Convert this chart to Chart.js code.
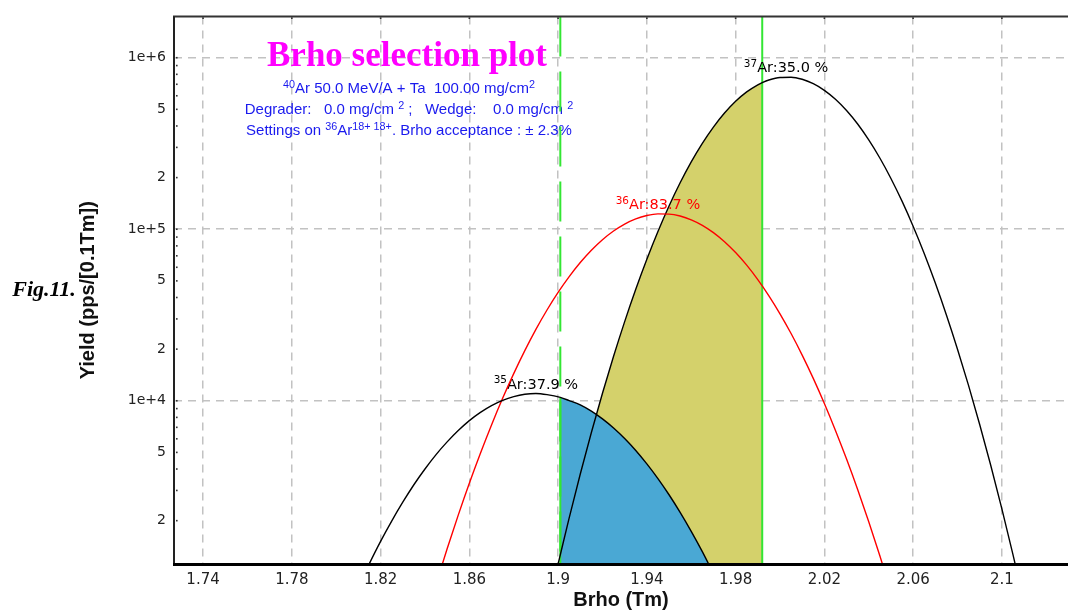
<!DOCTYPE html>
<html><head><meta charset="utf-8">
<script src="https://cdn.jsdelivr.net/npm/chart.js@4.4.1/dist/chart.umd.min.js"></script>
<style>html,body{margin:0;padding:0;background:#fff;overflow:hidden}canvas{display:block}</style>
</head><body>
<canvas id="c" width="1068" height="613" style="width:1068px;height:613px"></canvas>
<script>
// ---- data ----
const ar35X = [1.810,1.815,1.820,1.825,1.830,1.835,1.840,1.845,1.850,1.855,1.860,1.865,1.870,1.875,1.880,1.885,1.890,1.895,1.901,1.905,1.910,1.915,1.920,1.925,1.930,1.935,1.940,1.945,1.950,1.955,1.960,1.965,1.970];
const ar35Y = [824,1127,1514,1988,2560,3236,4000,4853,5754,6699,7656,8551,9370,10050,10570,10910,11020,10850,10450,10020,9465,8700,7839,6937,6020,5129,4285,3516,2830,2234,1731,1318,982];

const ar36X = [1.845,1.850,1.855,1.860,1.865,1.870,1.875,1.880,1.885,1.890,1.895,1.900,1.905,1.910,1.915,1.920,1.925,1.930,1.935,1.940,1.945,1.950,1.955,1.960,1.965,1.970,1.975,1.980,1.985,1.990,1.995,2.000,2.005,2.010,2.015,2.020,2.025,2.030,2.035,2.040,2.045,2.050];
const ar36Y = [851,1371,2153,3304,4943,7228,10330,14390,19590,26040,33790,42800,52930,63930,75420,86860,97610,107150,114850,120180,122800,122480,119300,113440,105370,95540,84560,73090,61710,50830,40900,32120,24640,18450,13490,9632,6713,4568,3037,1970,1248,772];

const ar37X = [1.895,1.900,1.901,1.905,1.910,1.915,1.920,1.925,1.930,1.935,1.940,1.945,1.950,1.955,1.960,1.965,1.970,1.975,1.980,1.985,1.990,1.992,1.995,2.000,2.005,2.010,2.015,2.020,2.025,2.030,2.035,2.040,2.045,2.050,2.055,2.060,2.065,2.070,2.075,2.080,2.085,2.090,2.095,2.100,2.105,2.110];
const ar37Y = [583,1117,1265,2075,3737,6527,11050,18150,28910,44620,66810,96990,136550,186380,246710,316650,394000,475500,556600,631500,694800,715500,741300,766800,769100,748100,705600,645200,572000,491800,410200,331600,260000,197600,145700,104100,72190,48500,31610,19970,12240,7271,4188,2340,1268,666];

const isotopeMass = ['35','36','37'];
const isotopePercent = ['37.9','83.7','35.0'];

const cutLow = 1.901;    // Brho acceptance window
const cutHigh = 1.992;

const xTickValues = [1.74,1.78,1.82,1.86,1.90,1.94,1.98,2.02,2.06,2.10];
const xTickLabels = ['1.74','1.78','1.82','1.86','1.9','1.94','1.98','2.02','2.06','2.1'];
const yLabelValues = [2000,5000,10000,20000,50000,100000,200000,500000,1000000];
const yLabelTexts  = ['2','5','1e+4','2','5','1e+5','2','5','1e+6'];

const xMin = 1.7269, xMax = 2.1298;
const yMin = 1117, yMax = 1.74e6;

const titleText = 'Brho selection plot';
const infoLines = [
  [['40',1],['Ar 50.0 MeV/A + Ta  100.00 mg/cm',0],['2',1]],
  [['Degrader:   0.0 mg/cm ',0],['2',1],[' ;   Wedge:    0.0 mg/cm ',0],['2',1]],
  [['Settings on ',0],['36',1],['Ar',0],['18+ 18+',1],['. Brho acceptance : \u00b1 2.3%',0]]
];

// ---- helpers ----
const pts = (xs, ys) => xs.map((x, i) => ({x: x, y: ys[i]}));
const ar35 = pts(ar35X, ar35Y), ar36 = pts(ar36X, ar36Y), ar37 = pts(ar37X, ar37Y);
const yellowFill = ar37.filter(p => p.x >= cutLow - 1e-9 && p.x <= cutHigh + 1e-9);
const blueFill = ar35.filter(p => p.x >= cutLow - 1e-9);
const ar35AtCut = ar35.find(p => Math.abs(p.x - cutLow) < 1e-9).y;
const isDecade = v => v != null && Math.abs(Math.log10(v) - Math.round(Math.log10(v))) < 1e-9;

function drawRich(ctx, segs, cx, cy, size, family, color, weight) {
  weight = weight || '';
  let w = 0;
  const m = segs.map(s => {
    const sz = s[1] ? size * 0.72 : size;
    ctx.font = weight + ' ' + sz + 'px ' + family;
    const ww = ctx.measureText(s[0]).width;
    w += ww;
    return {t: s[0], sup: s[1], sz: sz, w: ww};
  });
  let x = cx - w / 2;
  const base = cy + size * 0.36;
  ctx.fillStyle = color; ctx.textAlign = 'left'; ctx.textBaseline = 'alphabetic';
  m.forEach(s => {
    ctx.font = weight + ' ' + s.sz + 'px ' + family;
    ctx.fillText(s.t, x, s.sup ? base - size * 0.36 : base);
    x += s.w;
  });
}

const decor = {
  id: 'decor',
  beforeDatasetsDraw(chart) {
    const ctx = chart.ctx;
    ctx.save();
    ctx.font = 'bold 35px "Liberation Serif"';
    ctx.fillStyle = '#ff00ff'; ctx.textAlign = 'center'; ctx.textBaseline = 'middle';
    ctx.fillText(titleText, 407, 57);
    infoLines.forEach((segs, i) => drawRich(ctx, segs, 409, 88 + i * 21, 15, '"Liberation Sans"', '#1a1aee'));
    ctx.font = 'italic bold 22px "Liberation Serif"';
    ctx.fillStyle = '#000'; ctx.textAlign = 'center'; ctx.textBaseline = 'middle';
    ctx.fillText('Fig.11.', 44, 290);
    ctx.restore();
  },
  beforeDatasetDraw(chart, args) {
    if (args.index !== 2) return;   // after the fills, before the lines
    const ctx = chart.ctx, xs = chart.scales.x, ys = chart.scales.y;
    ctx.save();
    [[ar35, '#000'], [ar36, '#ff0000'], [ar37, '#000']].forEach((c, i) => {
      const pk = c[0].reduce((a, b) => (b.y > a.y ? b : a));
      const px = xs.getPixelForValue(pk.x) - (i === 2 ? 5 : 0), py = ys.getPixelForValue(pk.y) - 10;
      drawRich(ctx, [[isotopeMass[i], 1], ['Ar:' + isotopePercent[i] + ' %', 0]], px, py, 14.5, '"DejaVu Sans"', c[1]);
    });
    ctx.restore();
  },
  afterDraw(chart) {
    const ctx = chart.ctx, a = chart.chartArea, ys = chart.scales.y, xs = chart.scales.x;
    ctx.save();
    ctx.fillStyle = '#333';
    ys.ticks.forEach(t => {
      const py = ys.getPixelForValue(t.value);
      ctx.fillRect(a.left + 2, py - 0.75, 1.6, 1.6);
    });
    xs.ticks.forEach(t => {
      const px = xs.getPixelForValue(t.value);
      ctx.fillRect(px - 0.8, a.top + 1, 1.6, 1.6);
    });
    ctx.strokeStyle = '#333'; ctx.lineWidth = 2;
    ctx.beginPath(); ctx.moveTo(a.left - 1, a.top); ctx.lineTo(a.right, a.top); ctx.stroke();
    ctx.strokeStyle = '#222';
    ctx.beginPath(); ctx.moveTo(a.left, a.top); ctx.lineTo(a.left, a.bottom); ctx.stroke();
    ctx.strokeStyle = '#000'; ctx.lineWidth = 3;
    ctx.beginPath(); ctx.moveTo(a.left - 1, a.bottom + 0.5); ctx.lineTo(a.right, a.bottom + 0.5); ctx.stroke();
    ctx.restore();
  }
};

const curve = (data, color) => ({data: data, borderColor: color, borderWidth: 1.4, pointRadius: 0, fill: false,
  cubicInterpolationMode: 'monotone', order: 1, clip: 0});
const green = '#33e633';

new Chart(document.getElementById('c'), {
  type: 'line',
  data: {datasets: [
    {data: yellowFill, borderWidth: 0, borderColor: 'rgba(0,0,0,0)', backgroundColor: '#d4d16b', fill: 'start', pointRadius: 0, cubicInterpolationMode: 'monotone', order: 10, clip: 0},
    {data: blueFill, borderWidth: 0, borderColor: 'rgba(0,0,0,0)', backgroundColor: '#4aa8d4', fill: 'start', pointRadius: 0, cubicInterpolationMode: 'monotone', order: 9, clip: 0},
    {data: [{x: cutLow, y: yMax}, {x: cutLow, y: yMin}], borderColor: green, borderWidth: 2, borderDash: [40, 15], pointRadius: 0, fill: false, order: 5, clip: 0},
    {data: [{x: cutLow, y: ar35AtCut}, {x: cutLow, y: yMin}], borderColor: green, borderWidth: 2, pointRadius: 0, fill: false, order: 5, clip: 0},
    {data: [{x: cutHigh, y: yMax}, {x: cutHigh, y: yMin}], borderColor: green, borderWidth: 2, pointRadius: 0, fill: false, order: 5, clip: 0},
    curve(ar35, '#000'),
    curve(ar36, '#ff0000'),
    curve(ar37, '#000')
  ]},
  options: {
    responsive: false, animation: false, devicePixelRatio: 1,
    layout: {padding: {top: 11, left: 0, right: 0, bottom: 0}},
    plugins: {legend: {display: false}, tooltip: {enabled: false}},
    scales: {
      x: {
        type: 'linear', min: xMin, max: xMax,
        afterBuildTicks: s => { s.ticks = xTickValues.map(v => ({value: v})); },
        afterFit: s => { s.height = 49; },
        grid: {color: '#c2c2c2', lineWidth: 1.5, drawTicks: false},
        border: {display: false, dash: [8, 6]},
        ticks: {autoSkip: false, maxRotation: 0, padding: 7, color: '#222',
          font: {family: 'DejaVu Sans', size: 15}, callback: (v, i) => xTickLabels[i]},
        title: {display: true, text: 'Brho (Tm)', color: '#111',
          font: {family: 'Liberation Sans', size: 20, weight: 'bold'}, padding: {top: 0, bottom: 1}}
      },
      y: {
        type: 'logarithmic', min: yMin, max: yMax,
        afterBuildTicks: s => {
          const t = [];
          for (let e = 3; e <= 6; e++) for (let m = 1; m <= 9; m++) {
            const v = m * Math.pow(10, e);
            if (v >= yMin && v <= yMax) t.push({value: v});
          }
          s.ticks = t;
        },
        afterFit: s => { s.width = 174; },
        grid: {color: c => (c.tick && isDecade(c.tick.value)) ? '#c2c2c2' : 'rgba(0,0,0,0)', lineWidth: 1.5, drawTicks: false},
        border: {display: false, dash: [8, 6]},
        ticks: {autoSkip: false, padding: 8, color: '#222', font: {family: 'DejaVu Sans', size: 14},
          callback: v => { const i = yLabelValues.indexOf(v); return i >= 0 ? yLabelTexts[i] : ''; }},
        title: {display: true, text: 'Yield (pps/[0.1Tm])', color: '#111',
          font: {family: 'Liberation Sans', size: 20, weight: 'bold'}, padding: {top: 76, bottom: 0}}
      }
    }
  },
  plugins: [decor]
});
</script>
</body></html>
